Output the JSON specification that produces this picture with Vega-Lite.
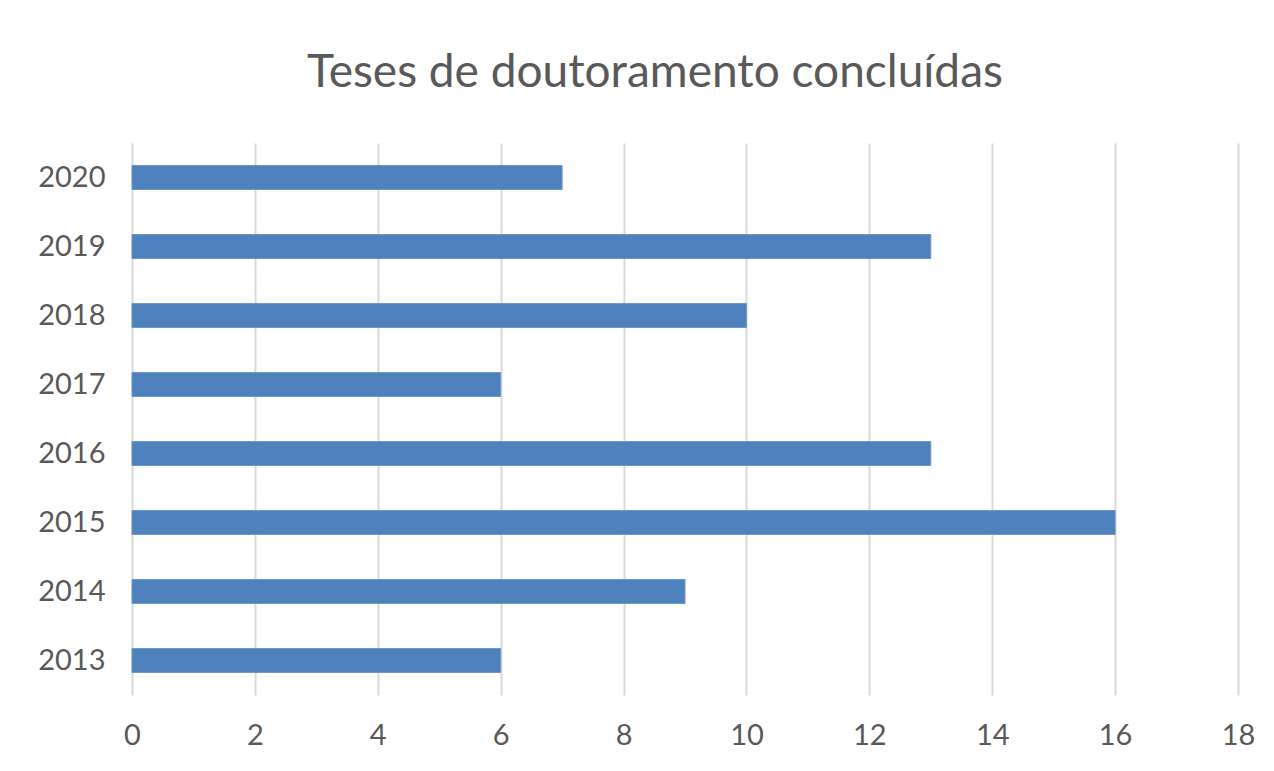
{
  "$schema": "https://vega.github.io/schema/vega-lite/v6.json",
  "width": 1106,
  "height": 552,
  "autosize": {"type": "none"},
  "padding": {"left": 132, "top": 143, "right": 36, "bottom": 76},
  "background": "white",
  "config": {"view": {"stroke": null}},
  "title": {
    "text": "Teses de doutoramento concluídas",
    "font": "Lato",
    "fontSize": 46,
    "fontWeight": "normal",
    "color": "#595959",
    "anchor": "middle",
    "offset": 46,
    "dx": -30
  },
  "data": {
    "values": [
      {"ano": "2013", "teses": 6},
      {"ano": "2014", "teses": 9},
      {"ano": "2015", "teses": 16},
      {"ano": "2016", "teses": 13},
      {"ano": "2017", "teses": 6},
      {"ano": "2018", "teses": 10},
      {"ano": "2019", "teses": 13},
      {"ano": "2020", "teses": 7}
    ]
  },
  "mark": {"type": "bar", "color": "#4f81bd", "stroke": "#6b97cc", "strokeWidth": 1},
  "encoding": {
    "y": {
      "field": "ano",
      "type": "nominal",
      "sort": "descending",
      "scale": {"paddingInner": 0.652, "paddingOuter": 0.326},
      "axis": {
        "title": null,
        "domain": false,
        "ticks": false,
        "grid": false,
        "labelFont": "Lato",
        "labelFontSize": 29,
        "labelColor": "#595959",
        "labelPadding": 27
      }
    },
    "x": {
      "field": "teses",
      "type": "quantitative",
      "scale": {"domain": [0, 18], "nice": false},
      "axis": {
        "title": null,
        "values": [0, 2, 4, 6, 8, 10, 12, 14, 16, 18],
        "domain": false,
        "ticks": false,
        "grid": true,
        "gridColor": "#d9d9d9",
        "gridWidth": 2,
        "labelFlush": false,
        "labelFont": "Lato",
        "labelFontSize": 29,
        "labelColor": "#595959",
        "labelPadding": 26
      }
    }
  }
}
